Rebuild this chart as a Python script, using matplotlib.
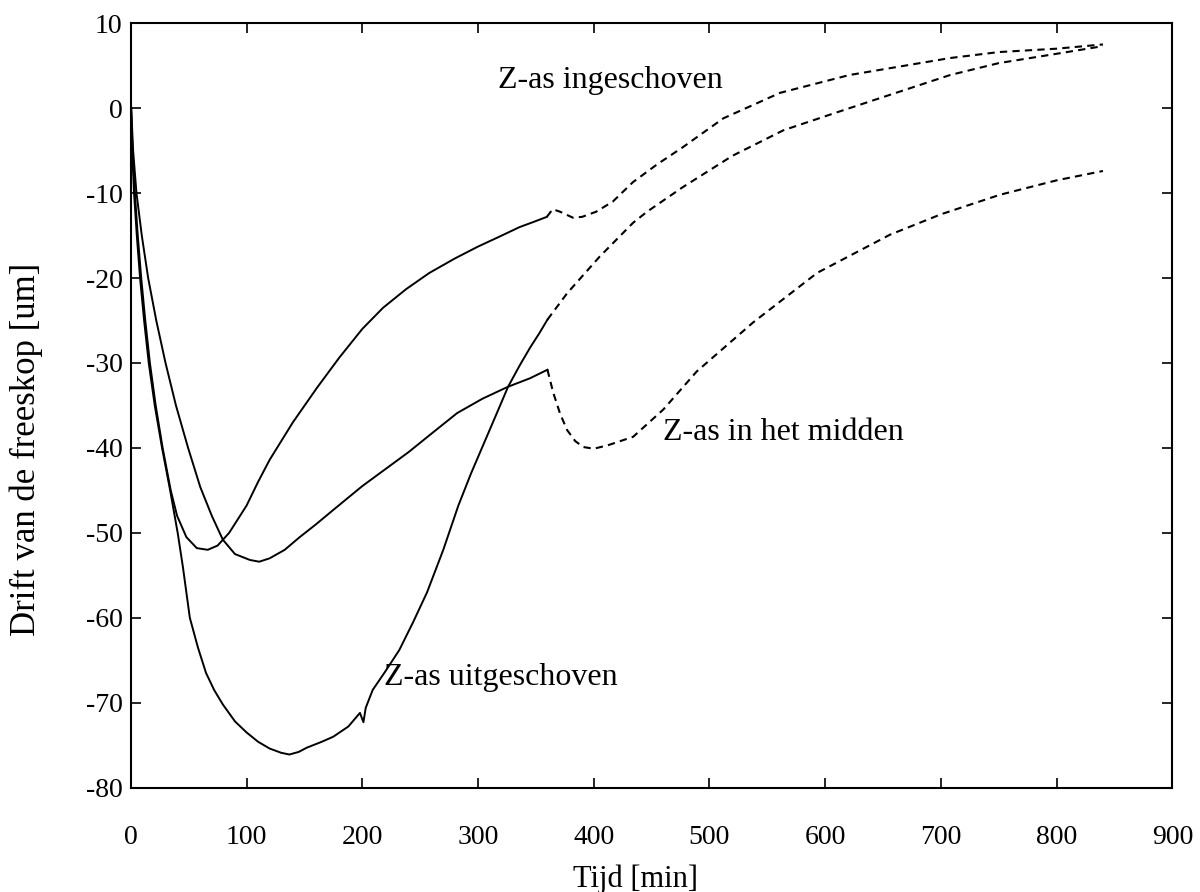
import matplotlib
matplotlib.use("Agg")
import matplotlib.pyplot as plt

plt.rcParams['font.family'] = ['Liberation Serif', 'DejaVu Serif']
plt.rcParams['axes.unicode_minus'] = False

# Z-as ingeschoven
ing_x = [0, 1.5, 3.5, 6, 9, 12.5, 16.5, 21.5, 27.5, 34.5, 40, 48, 57, 66.5, 75, 85, 100, 110,
         120, 140, 161, 180, 200, 218, 238, 258, 280, 300, 319, 336, 348, 359.5]
ing_y = [1, -5, -10, -15, -20, -25, -30, -35, -40, -45, -48, -50.5, -51.8, -52, -51.5, -50,
         -46.8, -44, -41.4, -37, -32.9, -29.4, -26, -23.5, -21.3, -19.4, -17.7, -16.3, -15.1,
         -14, -13.4, -12.8]
ing_x2 = [359.5, 364.5, 371, 382, 390, 402, 416.5, 434, 455, 477, 512, 561, 621, 708, 750, 800, 840]
ing_y2 = [-12.8, -11.9, -12.2, -12.9, -12.8, -12.2, -11, -8.7, -6.6, -4.6, -1.2, 1.8, 3.9, 5.9,
          6.6, 7.0, 7.5]

# Z-as in het midden
mid_x = [0, 2, 4.9, 9.5, 15, 22, 30, 39, 49.5, 60, 70, 79.5, 90, 103, 111, 120, 133, 146, 160,
         175, 200, 220, 240, 260, 282, 304, 326, 345, 360]
mid_y = [1, -5, -10, -15, -20, -25, -30, -35, -40, -44.6, -48, -50.8, -52.5, -53.2, -53.4, -53,
         -52, -50.5, -49, -47.3, -44.5, -42.5, -40.5, -38.3, -35.9, -34.2, -32.8, -31.8, -30.8]
mid_x2 = [360, 365, 371, 377, 384, 391, 400, 412, 434, 460, 489, 538, 593, 656, 700, 751, 800, 840]
mid_y2 = [-30.8, -33.5, -36, -37.9, -39.2, -39.9, -40.1, -39.7, -38.7, -35.5, -31, -25.2, -19.4,
          -14.9, -12.5, -10.2, -8.5, -7.4]

# Z-as uitgeschoven
uit_x = [0, 1.2, 2.8, 5.2, 8, 11.5, 15.5, 20.7, 27, 34, 40.5, 45, 51, 58, 65, 72, 79.5, 90, 100,
         110, 120, 130, 137, 145, 152, 165, 175, 188, 198, 201, 203, 209, 220, 232, 244, 256, 270,
         283, 294, 305, 316, 326, 336, 345, 353, 360]
uit_y = [1, -5, -10, -15, -20, -25, -30, -35, -40, -45, -50, -54, -60, -63.5, -66.5, -68.5, -70.2,
         -72.2, -73.5, -74.6, -75.4, -75.9, -76.1, -75.8, -75.3, -74.6, -74, -72.8, -71.2, -72.3,
         -70.6, -68.5, -66.3, -63.8, -60.5, -57, -52, -46.8, -43, -39.5, -36, -32.8, -30.3, -28.2,
         -26.5, -24.9]
uit_x2 = [360, 377, 405, 434, 446, 477, 520, 564, 610, 650, 708, 750, 800, 840]
uit_y2 = [-24.9, -21.8, -17.5, -13.5, -12.2, -9.3, -5.6, -2.6, -0.5, 1.3, 3.9, 5.3, 6.4, 7.3]

fig = plt.figure(figsize=(12, 8.92), dpi=100)
ax = fig.add_axes([0.109, 0.117, 0.868, 0.857])

dash = (0, (3.5, 2.5))
for xs, ys, xd, yd in [(ing_x, ing_y, ing_x2, ing_y2),
                       (mid_x, mid_y, mid_x2, mid_y2),
                       (uit_x, uit_y, uit_x2, uit_y2)]:
    ax.plot(xs, ys, color='black', lw=1.4)
    ax.plot(xd, yd, color='black', lw=1.5, linestyle=dash)

ax.text(317, 3.3, 'Z-as ingeschoven', fontsize=23, va='center')
ax.text(460, -38.2, 'Z-as in het midden', fontsize=23, va='center')
ax.text(219, -67, 'Z-as uitgeschoven', fontsize=23, va='center')

ax.set_xlim(0, 900)
ax.set_ylim(-80, 10)
ax.set_xticks(range(0, 901, 100))
ax.set_yticks(range(-80, 11, 10))
ax.tick_params(direction='in', length=7, width=1.2, top=True, right=True,
               labelsize=20, pad=6)
ax.tick_params(axis='x', pad=27)
for s in ax.spines.values():
    s.set_linewidth(1.5)

ax.set_xlabel('Tijd [min]', fontsize=22)
ax.set_ylabel('Drift van de freeskop [um]', fontsize=25)
ax.xaxis.set_label_coords(0.485, -0.1)
ax.yaxis.set_label_coords(-0.084, 0.442)

fig.savefig('out.png', dpi=100)
